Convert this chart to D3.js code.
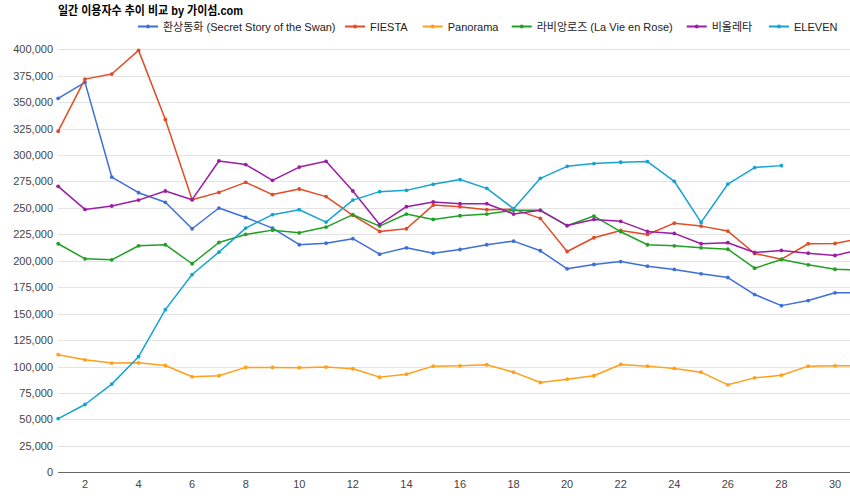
<!DOCTYPE html>
<html><head><meta charset="utf-8">
<script src="https://cdn.jsdelivr.net/npm/d3@7"></script>
<style>
html,body{margin:0;padding:0;background:#fff;}
svg{display:block;font-family:"Liberation Sans",Arial,"Noto Sans CJK KR",sans-serif;}
</style></head>
<body>
<svg id="chart" width="850" height="502"></svg>
<script>
// ---- data ----
const titleText = "일간 이용자수 추이 비교 by 가이섬.com";
const days = d3.range(1, 32);
const seriesNames = ["환상동화 (Secret Story of the Swan)", "FIESTA", "Panorama", "라비앙로즈 (La Vie en Rose)", "비올레타", "ELEVEN"];
const swan = [353600,368700,279200,264400,255300,230300,249900,241000,230900,215200,216700,220900,206300,212300,207200,210700,215200,218600,209500,192400,196500,199300,194900,191800,187700,184200,168100,157600,162400,169700,169700];
const fiesta = [322600,371800,376600,399000,333600,257800,264700,274200,262600,267900,260700,243000,227800,230300,252700,251200,248300,248900,240100,208800,221800,228700,224900,235600,232800,228100,206900,201500,216100,216400,221300];
const panorama = [111200,106400,103300,103500,101000,90300,91300,99200,99200,98900,99500,97900,90000,92800,100400,100700,101700,94700,84900,88100,91300,102000,100400,98200,94700,82700,89300,91800,100400,100700,100700];
const vieEnRose = [216100,201900,200900,214200,215200,197200,217300,224900,229000,226500,231900,243600,232800,244200,239100,242600,244200,247700,247700,233200,242300,227500,215200,214200,212300,211000,193000,201200,196200,192000,191000];
const violetta = [270400,248600,251800,257400,266000,257800,294400,291000,276100,288600,294100,266000,234400,251200,255600,254000,254000,244200,247700,233300,239100,237300,227800,225900,216100,217100,207900,209800,207200,205000,211000];
const eleven = [50800,64100,83400,109300,153800,187000,208200,230900,243600,248300,236600,257400,265400,266600,272300,276800,268500,249300,278000,289300,291900,293200,293800,275200,236300,272600,288200,290000,null,null,null];
const yTicks = d3.range(0, 400001, 25000);
const xTicks = d3.range(2, 31, 2);

// ---- styles / layout ----
const colors = ["#3d6fd8", "#e24b24", "#ff9f1a", "#22a026", "#9c1ca3", "#16a3d4"];
const allSeries = [swan, fiesta, panorama, vieEnRose, violetta, eleven];
const legendX = [138, 345, 422.7, 511.7, 686.7, 769];

const svg = d3.select("#chart");
const left = 58.2, right = 850;
const x = d3.scaleLinear().domain([1, 30]).range([58.2, 835]);
const y = d3.scaleLinear().domain([0, 400000]).range([472.3, 49.3]);

// gridlines
svg.append("g").selectAll("line").data(yTicks.filter(d => d > 0)).join("line")
  .attr("x1", left).attr("x2", right)
  .attr("y1", d => Math.round(y(d)) + 0.5).attr("y2", d => Math.round(y(d)) + 0.5)
  .attr("stroke", "#e3e3e3").attr("stroke-width", 1);

// y labels
svg.append("g").selectAll("text").data(yTicks).join("text")
  .attr("x", 53).attr("y", d => y(d) + 4)
  .attr("text-anchor", "end").attr("font-size", "11px").attr("fill", "#444")
  .text(d => d3.format(",")(d));

// x labels
svg.append("g").selectAll("text").data(xTicks).join("text")
  .attr("x", d => x(d)).attr("y", 488)
  .attr("text-anchor", "middle").attr("font-size", "11px").attr("fill", "#444")
  .text(d => d);

const clipR = svg.append("clipPath").attr("id", "clipR").append("rect")
  .attr("x", 0).attr("y", 0).attr("width", right).attr("height", 502);

const plot = svg.append("g").attr("clip-path", "url(#clipR)");
const line = d3.line().defined(d => d.v != null).x(d => x(d.day)).y(d => y(d.v));

allSeries.forEach((vals, i) => {
  const pts = days.map((day, k) => ({day, v: vals[k]}));
  plot.append("path").datum(pts)
    .attr("fill", "none").attr("stroke", colors[i]).attr("stroke-width", 1.5)
    .attr("stroke-linejoin", "round").attr("d", line);
  plot.append("g").selectAll("circle").data(pts.filter(p => p.v != null)).join("circle")
    .attr("cx", p => x(p.day)).attr("cy", p => y(p.v)).attr("r", 1.9)
    .attr("fill", colors[i]);
});

// baseline
svg.append("line").attr("x1", left).attr("x2", right)
  .attr("y1", Math.round(y(0)) + 0.5).attr("y2", Math.round(y(0)) + 0.5)
  .attr("stroke", "#666").attr("stroke-width", 1);

// title
svg.append("text").attr("x", 58).attr("y", 15)
  .attr("font-size", "12px").attr("font-weight", "bold").attr("fill", "#000")
  .attr("textLength", 185).attr("lengthAdjust", "spacingAndGlyphs")
  .text(titleText);

// legend
const lg = svg.append("g");
seriesNames.forEach((name, i) => {
  const lx = legendX[i], ly = 26.5;
  lg.append("line").attr("x1", lx).attr("x2", lx + 20).attr("y1", ly).attr("y2", ly)
    .attr("stroke", colors[i]).attr("stroke-width", 2);
  lg.append("circle").attr("cx", lx + 10).attr("cy", ly).attr("r", 1.9).attr("fill", colors[i]);
  lg.append("text").attr("x", lx + 25).attr("y", ly + 4)
    .attr("font-size", "11px").attr("fill", "#222").text(name);
});
</script>
</body></html>
